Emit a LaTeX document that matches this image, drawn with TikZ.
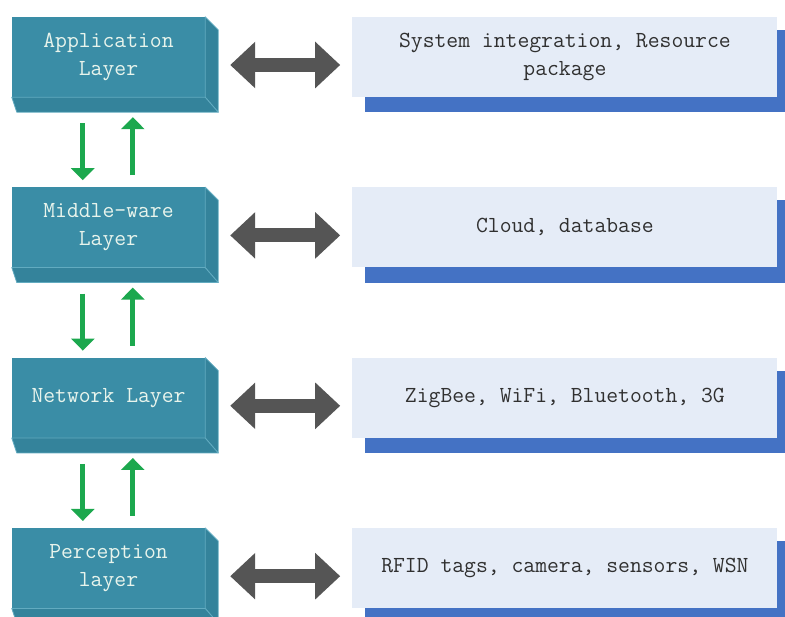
\documentclass[tikz,border=0pt]{standalone}
\usepackage{fontspec}
\usetikzlibrary{arrows.meta, positioning, backgrounds}
\usepackage{xcolor}
\definecolor{layerTeal}{HTML}{3A8DA6}
\definecolor{layerSide}{HTML}{34839B}
\definecolor{layerEdge}{HTML}{62ABC0}
\definecolor{layerText}{HTML}{E8F4EC}
\definecolor{infoFill}{HTML}{E5ECF7}
\definecolor{infoText}{HTML}{303030}
\definecolor{infoShadow}{HTML}{4472C4}
\definecolor{linkGray}{HTML}{555555}
\definecolor{flowGreen}{HTML}{1CA84E}
\tikzset{
    font=\ttfamily\fontsize{23}{28}\selectfont,
    % Blocks
    layer/.style={rectangle, fill=layerTeal, text=layerText, inner sep=0pt,
                  minimum width=193pt, minimum height=80pt, align=center},
    depth/.style={fill=layerSide, draw=layerEdge, line width=0.8pt, line join=round},
    info/.style={rectangle, fill=infoFill, text=infoText, inner sep=0pt,
                 minimum width=425pt, minimum height=80pt, align=center},
    % Arrows
    link/.style={{Triangle[width=45pt,length=25pt]}-{Triangle[width=45pt,length=25pt]},
                 line width=14pt, linkGray, shorten <=25pt, shorten >=12pt},
    flow/.style={-{Triangle[width=23pt,length=12pt]}, line width=5pt, flowGreen}
}
\begin{document}
\begin{tikzpicture}[node distance=90pt and 147pt]
\useasboundingbox (0,0) rectangle (785pt,-617pt);

\node[layer] (app) at (108.5pt,-57pt) {Application\\Layer};
\node[layer, below=of app] (mid) {Middle-ware\\Layer};
\node[layer, below=of mid] (net) {Network Layer};
\node[layer, below=of net] (per) {Perception\\layer};

\node[info, right=of app] (appinfo) {System integration, Resource\\package};
\node[info, right=of mid] (midinfo) {Cloud, database};
\node[info, right=of net] (netinfo) {ZigBee, WiFi, Bluetooth, 3G};
\node[info, right=of per] (perinfo) {RFID tags, camera, sensors, WSN};

% 3D depth of the layer blocks
\foreach \n in {app,mid,net,per}{
    \filldraw[depth] (\n.north east) -- ++(13pt,-13pt)
        -- ([shift={(13pt,-15pt)}]\n.south east) -- (\n.south east) -- cycle;
    \filldraw[depth] (\n.south west) -- (\n.south east)
        -- ([shift={(13pt,-15pt)}]\n.south east) -- ([shift={(5pt,-15pt)}]\n.south west) -- cycle;
}

% shadows behind the info boxes
\begin{scope}[on background layer]
\foreach \n in {appinfo,midinfo,netinfo,perinfo}
    \fill[infoShadow] ([shift={(13pt,-13pt)}]\n.north west) rectangle ([shift={(8pt,-15pt)}]\n.south east);
\end{scope}

\draw[link] ([yshift=-8pt]app.east) -- ([yshift=-8pt]appinfo.west);
\draw[link] ([yshift=-8pt]mid.east) -- ([yshift=-8pt]midinfo.west);
\draw[link] ([yshift=-8pt]net.east) -- ([yshift=-8pt]netinfo.west);
\draw[link] ([yshift=-8pt]per.east) -- ([yshift=-8pt]perinfo.west);

\foreach \a/\b in {app/mid, mid/net, net/per}{
    \draw[flow, shorten <=26pt, shorten >=7pt] ([xshift=71pt]\a.south west) -- ([xshift=71pt]\b.north west);
    \draw[flow, shorten <=12pt, shorten >=20pt] ([xshift=121pt]\b.north west) -- ([xshift=121pt]\a.south west);
}

\end{tikzpicture}
\end{document}
